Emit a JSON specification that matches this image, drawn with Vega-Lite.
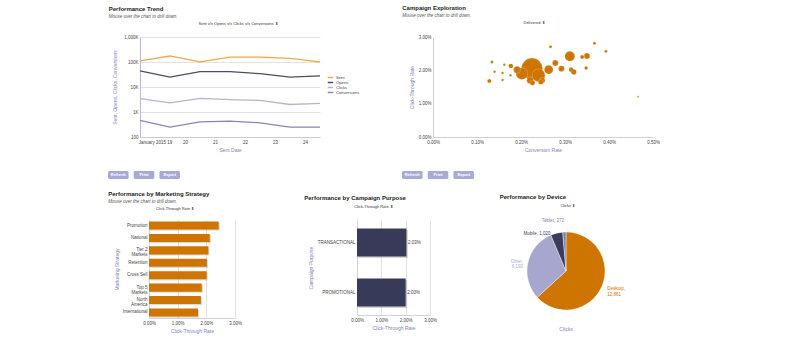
{
  "$schema": "https://vega.github.io/schema/vega-lite/v6.json",
  "background": "white",
  "padding": {"left": 0, "top": 4, "right": 5, "bottom": 0},
  "resolve": {"scale": {"color": "independent"}, "legend": {"color": "independent"}},
  "config": {
    "font": "Liberation Sans",
    "view": {"stroke": null},
    "axis": {"labelFontSize": 4.5, "labelColor": "#444", "labelFlush": false, "titleFontSize": 5, "titleColor": "#8282bb", "titleFontWeight": "normal", "ticks": false, "gridColor": "#e2e2e2", "domainColor": "#d0d0e0", "labelPadding": 2, "titlePadding": 4},
    "title": {"fontSize": 6, "fontWeight": "bold", "color": "#222", "subtitleFontSize": 4.5, "subtitleFontStyle": "italic", "subtitleColor": "#555", "anchor": "start", "subtitlePadding": 2},
    "legend": {"labelFontSize": 4.2, "labelColor": "#444", "symbolType": "stroke", "symbolSize": 30, "symbolStrokeWidth": 1.5, "rowPadding": 0, "clipHeight": 5, "labelOffset": 2}
  },
  "columns": 1,
  "spacing": 11,
  "concat": [
    {
      "columns": 1,
      "spacing": 18,
      "resolve": {"scale": {"color": "independent"}, "legend": {"color": "independent"}},
      "concat": [
        {
          "spacing": 42,
          "resolve": {"scale": {"color": "independent"}, "legend": {"color": "independent"}},
          "hconcat": [
            {"width": 66, "height": 1, "data": {"values": [{"spacer": 1}]}, "mark": {"type": "rect", "opacity": 0}},
            {
              "title": {"text": "Performance Trend", "subtitle": "Mouse over the chart to drill down.", "anchor": "start", "frame": "bounds", "offset": 4, "dx": -4},
              "resolve": {"scale": {"color": "independent"}, "legend": {"color": "independent"}},
              "vconcat": [
                {
                  "title": {"text": "Sent v/s Opens v/s Clicks v/s Conversions ⬍", "anchor": "middle", "fontSize": 4, "fontWeight": "normal", "color": "#333", "offset": 8, "dx": 8},
                  "width": 180,
                  "height": 100,
                  "data": {"values": [
                    {"date": "2015-01-18T12:00:00Z", "metric": "Sent", "count": 110000},
                    {"date": "2015-01-19T12:00:00Z", "metric": "Sent", "count": 174000},
                    {"date": "2015-01-20T12:00:00Z", "metric": "Sent", "count": 102000},
                    {"date": "2015-01-21T12:00:00Z", "metric": "Sent", "count": 158000},
                    {"date": "2015-01-22T12:00:00Z", "metric": "Sent", "count": 156000},
                    {"date": "2015-01-23T12:00:00Z", "metric": "Sent", "count": 140000},
                    {"date": "2015-01-24T12:00:00Z", "metric": "Sent", "count": 101000},
                    {"date": "2015-01-18T12:00:00Z", "metric": "Opens", "count": 44000},
                    {"date": "2015-01-19T12:00:00Z", "metric": "Opens", "count": 25000},
                    {"date": "2015-01-20T12:00:00Z", "metric": "Opens", "count": 41000},
                    {"date": "2015-01-21T12:00:00Z", "metric": "Opens", "count": 41000},
                    {"date": "2015-01-22T12:00:00Z", "metric": "Opens", "count": 34000},
                    {"date": "2015-01-23T12:00:00Z", "metric": "Opens", "count": 25000},
                    {"date": "2015-01-24T12:00:00Z", "metric": "Opens", "count": 28000},
                    {"date": "2015-01-18T12:00:00Z", "metric": "Clicks", "count": 3400},
                    {"date": "2015-01-19T12:00:00Z", "metric": "Clicks", "count": 2300},
                    {"date": "2015-01-20T12:00:00Z", "metric": "Clicks", "count": 3500},
                    {"date": "2015-01-21T12:00:00Z", "metric": "Clicks", "count": 3100},
                    {"date": "2015-01-22T12:00:00Z", "metric": "Clicks", "count": 2900},
                    {"date": "2015-01-23T12:00:00Z", "metric": "Clicks", "count": 2000},
                    {"date": "2015-01-24T12:00:00Z", "metric": "Clicks", "count": 2200},
                    {"date": "2015-01-18T12:00:00Z", "metric": "Conversions", "count": 460},
                    {"date": "2015-01-19T12:00:00Z", "metric": "Conversions", "count": 250},
                    {"date": "2015-01-20T12:00:00Z", "metric": "Conversions", "count": 400},
                    {"date": "2015-01-21T12:00:00Z", "metric": "Conversions", "count": 430},
                    {"date": "2015-01-22T12:00:00Z", "metric": "Conversions", "count": 370},
                    {"date": "2015-01-23T12:00:00Z", "metric": "Conversions", "count": 250},
                    {"date": "2015-01-24T12:00:00Z", "metric": "Conversions", "count": 250}
                  ]},
                  "mark": {"type": "line", "strokeWidth": 1.3},
                  "encoding": {
                    "x": {"field": "date", "type": "temporal", "scale": {"type": "utc", "nice": false},
                      "axis": {"title": "Sent Date", "grid": false, "domainColor": "#cccccc",
                        "values": [{"year": 2015, "month": 1, "date": 19, "utc": true}, {"year": 2015, "month": 1, "date": 20, "utc": true}, {"year": 2015, "month": 1, "date": 21, "utc": true}, {"year": 2015, "month": 1, "date": 22, "utc": true}, {"year": 2015, "month": 1, "date": 23, "utc": true}, {"year": 2015, "month": 1, "date": 24, "utc": true}],
                        "labelExpr": "utcdate(datum.value) == 19 ? 'January 2015 19' : '' + utcdate(datum.value)"}},
                    "y": {"field": "count", "type": "quantitative", "scale": {"type": "log", "domain": [100, 1000000]},
                      "axis": {"title": "Sent, Opens, Clicks, Conversions", "titlePadding": 6, "values": [100, 1000, 10000, 100000, 1000000], "domainColor": "#b8b8d8", "labelExpr": "datum.value >= 1000 ? format(datum.value / 1000, ',') + 'K' : '' + datum.value"}},
                    "color": {"field": "metric", "type": "nominal",
                      "scale": {"domain": ["Sent", "Opens", "Clicks", "Conversions"], "range": ["#eaa94c", "#4a4c6c", "#b4b4d4", "#8587b8"]},
                      "legend": {"title": "\u00a0", "titleFontSize": 4, "titlePadding": 34, "orient": "right", "offset": 4}}
                  }
                }
              ]
            },
            {
              "title": {"text": "Campaign Exploration", "subtitle": "Mouse over the chart to drill down.", "anchor": "start", "frame": "bounds", "offset": 4, "dx": -7},
              "vconcat": [
                {
                  "title": {"text": "Delivered ⬍", "anchor": "middle", "fontSize": 4, "fontWeight": "normal", "color": "#333", "offset": 9, "dx": -9},
                  "width": 220,
                  "height": 100,
                  "layer": [
                    {"mark": {"type": "rule", "color": "#b4b4dc", "strokeWidth": 1.5}, "encoding": {"x": {"datum": 0.0025, "type": "quantitative", "scale": {"domain": [0, 0.005]}, "axis": {"title": "Conversion Rate", "format": ".2%", "values": [0, 0.001, 0.002, 0.003, 0.004, 0.005]}}}},
                    {"mark": {"type": "rule", "color": "#b4b4dc", "strokeWidth": 1.5}, "encoding": {"y": {"datum": 0.015, "type": "quantitative", "scale": {"domain": [0, 0.03]}, "axis": {"title": "Click-Through Rate", "format": ".2%", "values": [0, 0.01, 0.02, 0.03]}}}},
                    {
                      "data": {"values": [
                        {"conversion": 0.00225, "ctr": 0.0205, "delivered": 450000},
                        {"conversion": 0.00202, "ctr": 0.0190, "delivered": 140000},
                        {"conversion": 0.00240, "ctr": 0.0185, "delivered": 168000},
                        {"conversion": 0.00221, "ctr": 0.0170, "delivered": 50000},
                        {"conversion": 0.00248, "ctr": 0.0170, "delivered": 35000},
                        {"conversion": 0.00226, "ctr": 0.0163, "delivered": 25000},
                        {"conversion": 0.00245, "ctr": 0.0165, "delivered": 25000},
                        {"conversion": 0.00263, "ctr": 0.0202, "delivered": 79000},
                        {"conversion": 0.00191, "ctr": 0.0202, "delivered": 50000},
                        {"conversion": 0.00311, "ctr": 0.0242, "delivered": 100000},
                        {"conversion": 0.00350, "ctr": 0.0243, "delivered": 35000},
                        {"conversion": 0.00339, "ctr": 0.0240, "delivered": 17000},
                        {"conversion": 0.00292, "ctr": 0.0205, "delivered": 35000},
                        {"conversion": 0.00314, "ctr": 0.0202, "delivered": 22000},
                        {"conversion": 0.00320, "ctr": 0.0195, "delivered": 28000},
                        {"conversion": 0.00348, "ctr": 0.0207, "delivered": 12500},
                        {"conversion": 0.00278, "ctr": 0.0222, "delivered": 35000},
                        {"conversion": 0.00267, "ctr": 0.0271, "delivered": 9000},
                        {"conversion": 0.00367, "ctr": 0.0281, "delivered": 9000},
                        {"conversion": 0.00393, "ctr": 0.0257, "delivered": 9000},
                        {"conversion": 0.00134, "ctr": 0.0225, "delivered": 9000},
                        {"conversion": 0.00162, "ctr": 0.0217, "delivered": 6000},
                        {"conversion": 0.00177, "ctr": 0.0213, "delivered": 22000},
                        {"conversion": 0.00140, "ctr": 0.0196, "delivered": 6000},
                        {"conversion": 0.00158, "ctr": 0.0192, "delivered": 6000},
                        {"conversion": 0.00176, "ctr": 0.0185, "delivered": 6000},
                        {"conversion": 0.00128, "ctr": 0.0168, "delivered": 17000},
                        {"conversion": 0.00158, "ctr": 0.0171, "delivered": 6000},
                        {"conversion": 0.00466, "ctr": 0.0121, "delivered": 3000}
                      ]},
                      "mark": {"type": "circle", "color": "#cd7500", "opacity": 1, "stroke": "#ffffff", "strokeWidth": 0.3, "strokeOpacity": 0.7},
                      "encoding": {
                        "x": {"field": "conversion", "type": "quantitative", "scale": {"domain": [0, 0.005]}, "axis": {"title": "Conversion Rate", "format": ".2%", "values": [0, 0.001, 0.002, 0.003, 0.004, 0.005]}},
                        "y": {"field": "ctr", "type": "quantitative", "scale": {"domain": [0, 0.03]}, "axis": {"title": "Click-Through Rate", "format": ".2%", "values": [0, 0.01, 0.02, 0.03]}},
                        "size": {"field": "delivered", "type": "quantitative", "scale": {"domain": [0, 450000], "range": [0, 450]}, "legend": null}
                      }
                    }
                  ]
                }
              ]
            }
          ]
        },
        {
          "spacing": 1,
          "hconcat": [
            {"width": 107, "height": 1, "data": {"values": [{"spacer": 1}]}, "mark": {"type": "rect", "opacity": 0}},
            {
              "width": 72,
              "height": 8,
              "data": {"values": [{"button": "Refresh"}, {"button": "Print"}, {"button": "Export"}]},
              "encoding": {"x": {"field": "button", "type": "nominal", "sort": null, "axis": null, "scale": {"paddingInner": 0.2, "paddingOuter": 0}}},
              "layer": [
                {"mark": {"type": "rect", "color": "#a9a9d8", "cornerRadius": 1.5}},
                {"mark": {"type": "text", "color": "white", "fontSize": 4, "fontWeight": "bold"}, "encoding": {"text": {"field": "button"}}}
              ]
            },
            {"width": 220, "height": 1, "data": {"values": [{"spacer": 1}]}, "mark": {"type": "rect", "opacity": 0}},
            {
              "width": 72,
              "height": 8,
              "data": {"values": [{"button": "Refresh"}, {"button": "Print"}, {"button": "Export"}]},
              "encoding": {"x": {"field": "button", "type": "nominal", "sort": null, "axis": null, "scale": {"paddingInner": 0.2, "paddingOuter": 0}}},
              "layer": [
                {"mark": {"type": "rect", "color": "#a9a9d8", "cornerRadius": 1.5}},
                {"mark": {"type": "text", "color": "white", "fontSize": 4, "fontWeight": "bold"}, "encoding": {"text": {"field": "button"}}}
              ]
            }
          ]
        }
      ]
    },
    {
      "spacing": 62,
      "hconcat": [
        {"width": 46, "height": 1, "data": {"values": [{"spacer": 1}]}, "mark": {"type": "rect", "opacity": 0}},
        {
          "title": {"text": "Performance by Marketing Strategy", "subtitle": "Mouse over the chart to drill down.", "anchor": "start", "frame": "bounds", "offset": 4, "dx": -6},
          "vconcat": [
            {
              "title": {"text": "Click-Through Rate ⬍", "anchor": "middle", "fontSize": 4, "fontWeight": "normal", "color": "#333", "offset": 9, "dx": -17},
              "width": 86,
              "height": 98,
              "data": {"values": [
                {"strategy": "Promotion", "ctr": 0.0243},
                {"strategy": "National", "ctr": 0.0212},
                {"strategy": "Tier 2 Markets", "ctr": 0.0207},
                {"strategy": "Retention", "ctr": 0.0202},
                {"strategy": "Cross Sell", "ctr": 0.0201},
                {"strategy": "Top 5 Markets", "ctr": 0.0184},
                {"strategy": "North America", "ctr": 0.0181},
                {"strategy": "International", "ctr": 0.0171}
              ]},
              "encoding": {
                "y": {"field": "strategy", "type": "nominal", "sort": null, "scale": {"paddingInner": 0.35, "paddingOuter": 0.12},
                  "axis": {"title": "Marketing Strategy", "titlePadding": 3, "labelLineHeight": 5, "labelExpr": "indexof(datum.label, ' Markets') > 0 ? [replace(datum.label, ' Markets', ''), 'Markets'] : datum.label == 'North America' ? ['North', 'America'] : datum.label"}},
                "x": {"field": "ctr", "type": "quantitative", "scale": {"domain": [0, 0.03]}, "axis": {"title": "Click-Through Rate", "format": ".2%", "values": [0, 0.01, 0.02, 0.03]}}
              },
              "layer": [
                {"mark": {"type": "bar", "color": "#888888", "opacity": 0.3, "xOffset": 1.2, "yOffset": 1.2}},
                {"mark": {"type": "bar", "color": "#cd7500"}}
              ]
            }
          ]
        },
        {
          "title": {"text": "Performance by Campaign Purpose", "anchor": "start", "frame": "bounds", "offset": 4, "dx": -4},
          "vconcat": [
            {
              "title": {"text": "Click-Through Rate ⬍", "anchor": "middle", "fontSize": 4, "fontWeight": "normal", "color": "#333", "offset": 11, "dx": -20},
              "width": 73,
              "height": 95,
              "data": {"values": [
                {"purpose": "TRANSACTIONAL", "ctr": 0.0203},
                {"purpose": "PROMOTIONAL", "ctr": 0.0200}
              ]},
              "encoding": {
                "y": {"field": "purpose", "type": "nominal", "sort": null, "scale": {"paddingInner": 0.44, "paddingOuter": 0.17}, "axis": {"title": "Campaign Purpose"}},
                "x": {"field": "ctr", "type": "quantitative", "scale": {"domain": [0, 0.03]}, "axis": {"title": "Click-Through Rate", "format": ".2%", "values": [0, 0.01, 0.02, 0.03]}}
              },
              "layer": [
                {"mark": {"type": "bar", "color": "#888888", "opacity": 0.35, "xOffset": 1.5, "yOffset": 1.5}},
                {"mark": {"type": "bar", "color": "#383a5a"}},
                {"mark": {"type": "text", "align": "left", "dx": 1.5, "fontSize": 4.5, "color": "#444"}, "encoding": {"text": {"field": "ctr", "type": "quantitative", "format": ".2%"}}}
              ]
            }
          ]
        },
        {
          "title": {"text": "Performance by Device", "anchor": "start", "frame": "bounds", "offset": 4, "dx": -11},
          "vconcat": [
            {
              "title": {"text": "Clicks ⬍", "anchor": "middle", "fontSize": 4, "fontWeight": "normal", "color": "#333", "offset": 10},
              "vconcat": [
                {
                  "title": {"text": "Clicks", "orient": "bottom", "anchor": "middle", "fontSize": 5, "fontWeight": "normal", "color": "#8282bb", "offset": 5},
                  "width": 90,
                  "height": 102,
                  "data": {"values": [
                    {"device": "Desktop", "clicks": 12861},
                    {"device": "Other", "clicks": 6192},
                    {"device": "Mobile", "clicks": 1020},
                    {"device": "Tablet", "clicks": 272}
                  ]},
                  "transform": [{"calculate": "datum.device + ',' + (datum.clicks > 5000 ? '\\n' : ' ') + format(datum.clicks, ',')", "as": "label"}],
                  "encoding": {
                    "theta": {"field": "clicks", "type": "quantitative", "stack": true},
                    "order": {"field": "clicks", "sort": "descending"},
                    "color": {"field": "device", "type": "nominal", "scale": {"domain": ["Desktop", "Other", "Mobile", "Tablet"], "range": ["#cd7500", "#a6a6cf", "#3a3c5c", "#8082b2"]}, "legend": null}
                  },
                  "layer": [
                    {"mark": {"type": "arc", "outerRadius": 39, "stroke": "#ffffff", "strokeWidth": 0.4}},
                    {"mark": {"type": "text", "radius": 45, "align": "left", "baseline": "middle", "lineBreak": "\n", "fontSize": 4.5, "lineHeight": 5.5, "color": "#333"}, "encoding": {"text": {"condition": {"test": "datum.device == 'Desktop'", "field": "label"}, "value": ""}}},
                    {"mark": {"type": "text", "radius": 44, "align": "right", "baseline": "middle", "lineBreak": "\n", "fontSize": 4.5, "lineHeight": 5.5, "color": "#333"}, "encoding": {"text": {"condition": {"test": "datum.device == 'Other'", "field": "label"}, "value": ""}}},
                    {"mark": {"type": "text", "radius": 44, "align": "right", "baseline": "middle", "dx": -5, "dy": 6, "fontSize": 4.5, "color": "#333"}, "encoding": {"text": {"condition": {"test": "datum.device == 'Mobile'", "field": "label"}, "value": ""}}},
                    {"mark": {"type": "text", "radius": 50, "align": "right", "baseline": "middle", "fontSize": 4.5, "color": "#333"}, "encoding": {"text": {"condition": {"test": "datum.device == 'Tablet'", "field": "label"}, "value": ""}}}
                  ]
                }
              ]
            }
          ]
        }
      ]
    }
  ]
}
